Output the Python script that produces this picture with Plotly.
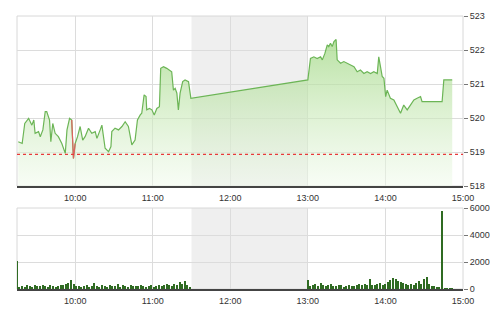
import plotly.graph_objects as go
from datetime import datetime, timedelta

DAY = "2024-01-02 "

# ---- index line (time, value) ----
times_am = ["09:16","09:19","09:21","09:24","09:26:30","09:28","09:29","09:31:40","09:33","09:35",
            "09:36:50","09:38","09:40:10","09:41:10","09:42:40","09:44:30","09:47","09:49:40","09:52:20","09:53:40",
            "09:55:40","09:57:20","09:58:40","10:00","10:01:50","10:03:50","10:05:50","10:07:40","10:10:20","10:12:50",
            "10:15:30","10:16:50","10:19:20","10:20:40","10:23:10","10:25:50","10:27:40","10:28:20","10:30:50","10:33:30",
            "10:36:10","10:38:40","10:41:10","10:43:50","10:46:20","10:48:10","10:50:20","10:51:30","10:53:20","10:54:50",
            "10:55:20","10:57:30","10:59:20","11:01:10","11:03:10","11:05:10","11:06:10","11:08:20","11:10:50","11:13:20",
            "11:14:40","11:16","11:17:20","11:18:40","11:19:50","11:21:10","11:23:10","11:25","11:27:40","11:29:30"]
values_am = [519.30, 519.25, 519.84, 519.99, 519.79, 519.94, 519.55, 519.60, 519.45, 519.65,
             520.19, 520.19, 519.94, 519.30, 519.84, 519.55, 519.45, 519.25, 518.96, 519.65,
             519.99, 519.94, 518.81, 519.25, 519.45, 519.75, 519.35, 519.45, 519.70, 519.55,
             519.60, 519.40, 519.65, 519.79, 519.11, 519.01, 519.16, 519.60, 519.70, 519.65,
             519.75, 519.89, 519.75, 519.21, 519.35, 519.94, 520.09, 520.14, 520.68, 520.63,
             520.24, 520.28, 520.24, 520.09, 520.28, 520.33, 521.46, 521.51, 521.46, 521.41,
             521.36, 520.82, 520.87, 520.73, 520.24, 520.73, 521.07, 521.12, 521.07, 520.58]
times_pm = ["13:00","13:02","13:04:40","13:07:10","13:09:50","13:11:10","13:13:10","13:15","13:16:10","13:17:30",
            "13:18:50","13:20:10","13:21:50","13:22:40","13:25:20","13:27:50","13:30:20","13:33","13:35:40","13:38:10",
            "13:40:40","13:43:20","13:45:50","13:48:30","13:51","13:53:40","13:54:50","13:56:10","13:57:30","13:58:50",
            "14:00:10","14:01:20","14:03:50","14:06:30","14:09:10","14:11:40","14:14:10","14:16:50","14:19:20","14:22",
            "14:24:30","14:27:10","14:28:20","14:31","14:34:50","14:38:40","14:43:50","14:45:10","14:47:40","14:51:40"]
values_pm = [521.12, 521.75, 521.80, 521.75, 521.80, 521.71, 521.90, 522.15, 522.10, 522.20,
             522.10, 522.25, 522.31, 521.71, 521.61, 521.66, 521.61, 521.56, 521.51, 521.36,
             521.41, 521.31, 521.36, 521.31, 521.36, 521.31, 521.80, 521.51, 521.22, 521.17,
             520.63, 520.82, 520.58, 520.53, 520.33, 520.14, 520.38, 520.24, 520.38, 520.53,
             520.58, 520.63, 520.48, 520.48, 520.48, 520.48, 520.48, 521.12, 521.12, 521.12]
reference_value = 518.93

# ---- volume (2-minute bars) ----
vol_am_start = "09:15"
volume_am = [2050, 180, 250, 150, 300, 220, 160, 280, 240, 190,
             310, 200, 170, 260, 230, 150, 200, 320, 280, 350,
             450, 700, 380, 250, 200, 160, 220, 300, 180, 250,
             420, 230, 170, 260, 210, 150, 300, 240, 200, 350,
             180, 260, 220, 170, 300, 250, 190, 230, 280, 200,
             160, 250, 320, 180, 240, 300, 210, 260, 350, 280,
             220, 400, 300, 520, 350, 600, 300, 180]
vol_pm_start = "13:00"
volume_pm = [650, 200, 280, 350, 250, 420, 300, 220, 260, 380,
             240, 200, 300, 260, 180, 230, 310, 250, 200, 280,
             350, 300, 400, 260, 750, 330, 280, 350, 420, 300,
             380, 500, 650, 800, 720, 600, 500, 420, 380, 300,
             350, 280, 450, 600, 400, 750, 880, 350, 200, 250,
             150, 120, 5800, 30, 20, 20, 20]

price_ticks = [518, 519, 520, 521, 522, 523]
volume_ticks = [0, 2000, 4000, 6000]


def ts(t):
    return DAY + (t if t.count(":") == 2 else t + ":00")


def series_times(start, n, step_min=2):
    t0 = datetime.strptime(DAY + start, "%Y-%m-%d %H:%M")
    return [(t0 + timedelta(minutes=step_min * i)).strftime("%Y-%m-%d %H:%M:%S") for i in range(n)]


x_line = [ts(t) for t in times_am + times_pm]
y_line = values_am + values_pm

x0 = DAY + "09:15:00"
x1 = DAY + "15:00:00"
lunch0 = DAY + "11:30:00"
lunch1 = DAY + "13:00:00"

fig = go.Figure()

# baseline for fill
fig.add_trace(go.Scatter(x=[x_line[0], x_line[-1]], y=[518, 518], mode="lines",
                         line=dict(width=0, color="rgba(0,0,0,0)"), hoverinfo="skip",
                         showlegend=False, xaxis="x", yaxis="y"))
fig.add_trace(go.Scatter(x=x_line, y=y_line, mode="lines", fill="tonexty",
                         fillgradient=dict(type="vertical", start=518, stop=522.4,
                                           colorscale=[[0, "rgba(240,250,235,0.5)"],
                                                       [1, "rgba(160,215,130,0.75)"]]),
                         line=dict(color="#6cb556", width=1.2), showlegend=False,
                         xaxis="x", yaxis="y"))
# red spike segment near 10:00
spike_i = 22
fig.add_trace(go.Scatter(x=x_line[spike_i - 1:spike_i + 2], y=y_line[spike_i - 1:spike_i + 2],
                         mode="lines", line=dict(color="#e06060", width=1.2), showlegend=False,
                         xaxis="x", yaxis="y"))
# reference dotted line
fig.add_trace(go.Scatter(x=[x0, x1], y=[reference_value, reference_value], mode="lines",
                         line=dict(color="#e83a3a", width=1.2, dash="dot"), showlegend=False,
                         xaxis="x", yaxis="y"))

# volume
fig.add_trace(go.Bar(x=series_times(vol_am_start, len(volume_am)) + series_times(vol_pm_start, len(volume_pm)),
                     y=volume_am + volume_pm, width=70000, marker=dict(color="#2f6b22", line_width=0),
                     showlegend=False, xaxis="x2", yaxis="y2"))

top_dom = [1 - 186 / 312, 1 - 16 / 312]
bot_dom = [1 - 289 / 312, 1 - 208 / 312]
x_dom = [17 / 500, 463 / 500]

font = dict(family="Liberation Sans, Arial, sans-serif", size=9, color="#333")
xcommon = dict(type="date", range=[x0, x1], tickformat="%H:%M", dtick=3600000,
               tick0=DAY + "10:00:00", showgrid=True, gridcolor="#dcdcdc", gridwidth=1,
               showline=True, linecolor="#444", linewidth=1.5, ticks="", tickfont=font,
               domain=x_dom, zeroline=False, automargin=False, ticklabelstandoff=2)

shapes = []
for dom in (top_dom, bot_dom):
    shapes.append(dict(type="rect", xref="x", yref="paper", x0=lunch0, x1=lunch1,
                       y0=dom[0], y1=dom[1], fillcolor="#efefef", line_width=0, layer="below"))
    shapes.append(dict(type="rect", xref="paper", yref="paper", x0=x_dom[0], x1=x_dom[1],
                       y0=dom[0], y1=dom[1], line=dict(color="#d8d8d8", width=1), layer="below"))

fig.update_layout(
    width=500, height=312, margin=dict(l=0, r=0, t=0, b=0),
    paper_bgcolor="white", plot_bgcolor="rgba(0,0,0,0)",
    shapes=shapes, bargap=0,
    xaxis=dict(**xcommon, anchor="y"),
    xaxis2=dict(**xcommon, anchor="y2", matches="x"),
    yaxis=dict(domain=top_dom, range=[518, 523], side="right", tickvals=price_ticks,
               ticks="outside", ticklen=4, tickcolor="#777", tickfont=font,
               showgrid=True, gridcolor="#dcdcdc", zeroline=False, automargin=False, anchor="x"),
    yaxis2=dict(domain=bot_dom, range=[0, 6000], side="right", tickvals=volume_ticks,
                ticks="outside", ticklen=4, tickcolor="#777", tickfont=font,
                showgrid=True, gridcolor="#dcdcdc", zeroline=False, automargin=False, anchor="x2"),
)

fig.write_html("out.html")
